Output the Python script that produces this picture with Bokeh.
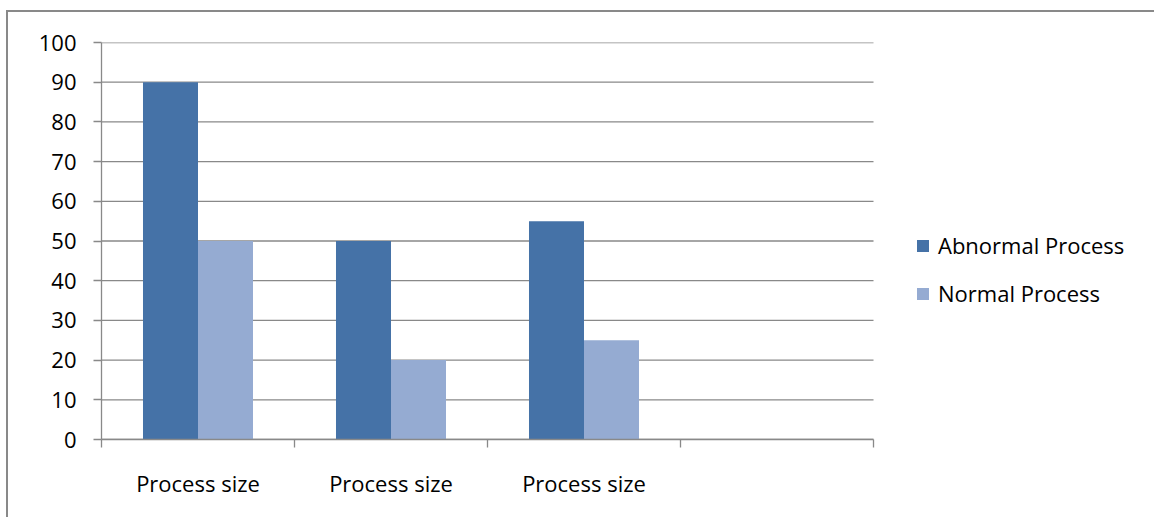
from bokeh.plotting import figure
from bokeh.models import ColumnDataSource, FixedTicker, Legend, LegendItem
from bokeh.embed import file_html
from bokeh.resources import INLINE

categories = ["Process size", "Process size", "Process size", ""]
abnormal = [90, 50, 55, 0]
normal = [50, 20, 25, 0]
series_names = ["Abnormal Process", "Normal Process"]
y_ticks = [0, 10, 20, 30, 40, 50, 60, 70, 80, 90, 100]

FONT = "Open Sans"
FS = "22px"
GRID = "#898989"
C_AB = "#4572A7"
C_NO = "#95ABD2"

n = len(categories)
centers = [i + 0.5 for i in range(n)]
shown = [i for i in range(n) if categories[i]]

# layout: canvas starts at (8, 12) because of the outer border/margin.
# The frame extends to the right edge so the legend can sit inside it;
# the plotted category area covers 772 px of the 1055 px frame.
FRAME_W = 1055
AREA_W = 772
x_end = n * FRAME_W / AREA_W

p = figure(width=1148, height=507, x_range=(0, x_end), y_range=(0, 100),
           output_backend="svg", toolbar_location=None,
           min_border_left=93, min_border_right=0,
           min_border_top=30, min_border_bottom=80)
p.outline_line_color = None
p.background_fill_color = "white"
p.border_fill_color = "white"
p.styles = {"margin-left": "6px", "margin-top": "10px",
            "border-left": "2px solid #898989", "border-top": "2px solid #898989"}

# horizontal gridlines limited to the category area
p.segment(x0=[0] * len(y_ticks), x1=[n] * len(y_ticks), y0=y_ticks, y1=y_ticks,
          line_color=GRID, line_width=1.3)

src_a = ColumnDataSource(dict(x=[c - 0.1425 for c in centers], top=abnormal))
src_n = ColumnDataSource(dict(x=[c + 0.1425 for c in centers], top=normal))
ra = p.vbar(x="x", top="top", width=0.285, source=src_a, fill_color=C_AB, line_color=None)
rn = p.vbar(x="x", top="top", width=0.285, source=src_n, fill_color=C_NO, line_color=None)

xa = p.xaxis[0]
xa.bounds = (0, n)
xa.ticker = FixedTicker(ticks=[centers[i] for i in shown],
                        minor_ticks=list(range(n + 1)))
xa.major_label_overrides = {centers[i]: categories[i] for i in shown}
xa.major_tick_out = 0
xa.major_tick_in = 0
xa.minor_tick_out = 8
xa.minor_tick_in = 0
xa.minor_tick_line_color = GRID
xa.minor_tick_line_width = 1.3
xa.axis_line_color = GRID
xa.axis_line_width = 1.3
xa.major_label_standoff = 20
xa.major_label_text_font = FONT
xa.major_label_text_font_size = FS
xa.major_label_text_color = "black"

ya = p.yaxis[0]
ya.ticker = FixedTicker(ticks=y_ticks)
ya.major_tick_out = 8
ya.major_tick_in = 0
ya.minor_tick_line_color = None
ya.major_tick_line_color = GRID
ya.major_tick_line_width = 1.3
ya.axis_line_color = GRID
ya.axis_line_width = 1.3
ya.major_label_standoff = 17
ya.major_label_text_font = FONT
ya.major_label_text_font_size = FS
ya.major_label_text_color = "black"

p.xgrid.grid_line_color = None
p.ygrid.grid_line_color = None

legend = Legend(items=[LegendItem(label=series_names[0], renderers=[ra]),
                       LegendItem(label=series_names[1], renderers=[rn])],
                location=(814, 131), orientation="vertical",
                glyph_width=15, glyph_height=15, label_standoff=8,
                label_height=30, spacing=18, padding=0, margin=0,
                border_line_color=None, background_fill_alpha=0,
                label_text_font=FONT, label_text_font_size=FS,
                label_text_color="black")
p.add_layout(legend, "center")

open("out.html", "w").write(file_html(p, INLINE))
